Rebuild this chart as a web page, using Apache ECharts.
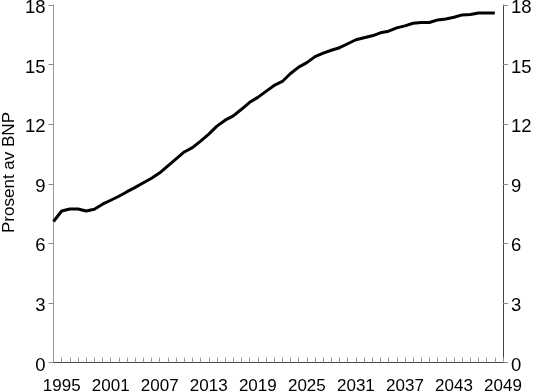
<!DOCTYPE html>
<html><head><meta charset="utf-8">
<script src="https://cdn.jsdelivr.net/npm/echarts@6/dist/echarts.min.js"></script>
<style>html,body{margin:0;padding:0;background:#fff}#c{width:540px;height:392px}</style>
</head><body><div id="c"></div>
<script>
const years = [];
for (let y = 1994; y <= 2049; y++) years.push(String(y));
const values = [7.1, 7.63, 7.73, 7.73, 7.63, 7.72, 7.97, 8.17, 8.37, 8.6,
  8.82, 9.05, 9.28, 9.55, 9.9, 10.25, 10.6, 10.82, 11.15, 11.5,
  11.9, 12.2, 12.42, 12.75, 13.1, 13.35, 13.65, 13.95, 14.15, 14.55,
  14.87, 15.1, 15.4, 15.58, 15.72, 15.85, 16.05, 16.25, 16.35, 16.45,
  16.6, 16.68, 16.85, 16.95, 17.08, 17.12, 17.12, 17.25, 17.3, 17.38,
  17.5, 17.52, 17.6, 17.6, 17.6, null];
const yTicks = [0, 3, 6, 9, 12, 15, 18];
const yName = 'Prosent av BNP';
const labelYears = ['1995','2001','2007','2013','2019','2025','2031','2037','2043','2049'];

const font = 'Liberation Sans, Arial, Helvetica, sans-serif';
const narrow = '"Liberation Sans Narrow", "Arial Narrow", "Liberation Sans", sans-serif';
const chart = echarts.init(document.getElementById('c'), null, {renderer: 'canvas'});
const yAxisBase = {
  type: 'value', min: yTicks[0], max: yTicks[yTicks.length - 1], interval: 3,
  splitLine: {show: false},
  axisTick: {show: true, inside: false, length: 5, lineStyle: {color: '#888'}},
  axisLabel: {
    margin: 8,
    formatter: v => '{a|' + v + '}',
    rich: {a: {fontSize: 18.5, color: '#000', fontFamily: font, padding: [6, 0, 0, 0]}}
  }
};
chart.setOption({
  animation: false,
  grid: {left: 53.5, right: 37, top: 5, bottom: 29.5, containLabel: false, outerBoundsMode: 'none'},
  xAxis: [{
    type: 'category', data: years, boundaryGap: false,
    axisLine: {lineStyle: {color: '#444', width: 1}},
    axisTick: {show: true, inside: true, length: 5, interval: 0, lineStyle: {color: '#999'}},
    axisLabel: {
      interval: (i, v) => labelYears.includes(v),
      fontSize: 17, color: '#000', fontFamily: narrow, margin: 15
    },
    splitLine: {show: false}
  }, {
    type: 'category', data: years, boundaryGap: false, position: 'top',
    axisLine: {lineStyle: {color: '#444', width: 1}},
    axisTick: {show: false}, axisLabel: {show: false}
  }],
  yAxis: [Object.assign({}, yAxisBase, {
    position: 'left',
    axisLine: {show: true, lineStyle: {color: '#999', width: 1}}
  }), Object.assign({}, yAxisBase, {
    position: 'right',
    axisLine: {show: true, lineStyle: {color: '#444', width: 1}}
  })],
  graphic: [{
    type: 'text', x: 9.5, y: 172.5, rotation: Math.PI / 2,
    style: {text: yName, fontSize: 17, fontFamily: font, fill: '#000', align: 'center', verticalAlign: 'middle'}
  }],
  series: [{
    type: 'line', data: values, xAxisIndex: 0, yAxisIndex: 0,
    showSymbol: false, symbol: 'none',
    lineStyle: {color: '#000', width: 3}
  }]
});
</script></body></html>
